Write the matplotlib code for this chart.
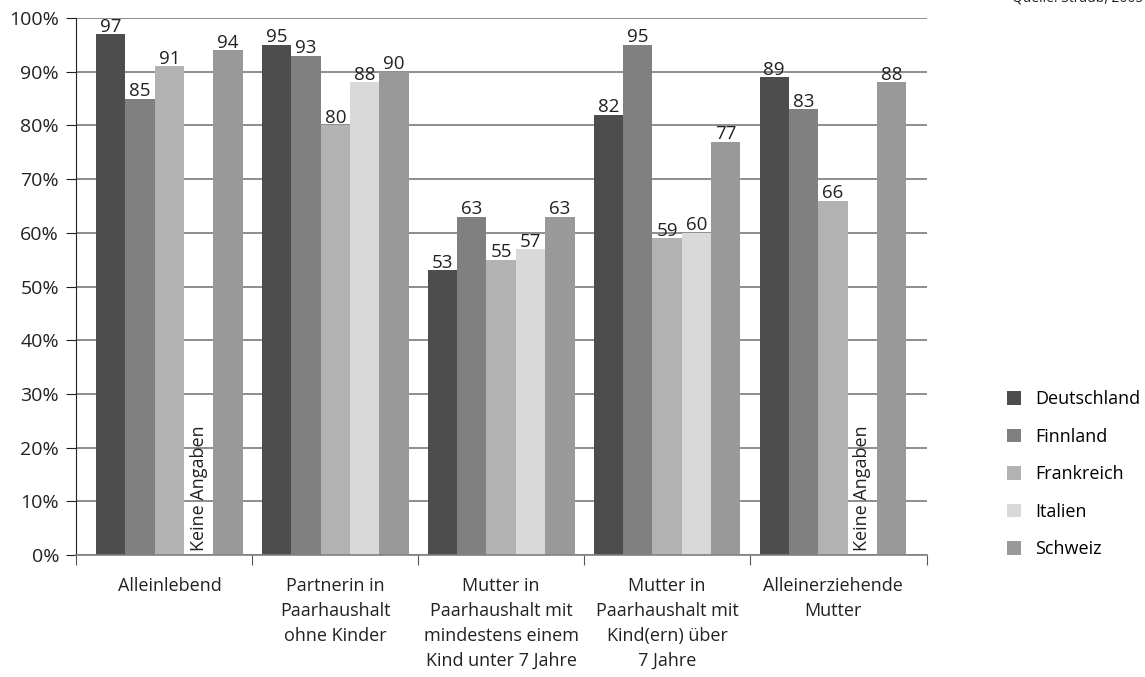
import numpy as np
import matplotlib
matplotlib.use("Agg")
import matplotlib.pyplot as plt
from matplotlib.patches import Patch

plt.rcParams['font.family'] = ['Open Sans', 'DejaVu Sans']

categories = ['Alleinlebend',
              'Partnerin in\nPaarhaushalt\nohne Kinder',
              'Mutter in\nPaarhaushalt mit\nmindestens einem\nKind unter 7 Jahre',
              'Mutter in\nPaarhaushalt mit\nKind(ern) über\n7 Jahre',
              'Alleinerziehende\nMutter']
countries = ['Deutschland', 'Finnland', 'Frankreich', 'Italien', 'Schweiz']
deutschland = [97, 95, 53, 82, 89]
finnland = [85, 93, 63, 95, 83]
frankreich = [91, 80, 55, 59, 66]
italien = [None, 88, 57, 60, None]   # None = keine Angaben
schweiz = [94, 90, 63, 77, 88]
colors = ['#4d4d4d', '#808080', '#b2b2b2', '#d9d9d9', '#999999']

series = [deutschland, finnland, frankreich, italien, schweiz]

fig = plt.figure(figsize=(11.45, 6.77), dpi=100)
ax = fig.add_axes([0.0661, 0.1802, 0.7432, 0.7932])

x = np.arange(len(categories))
width = 0.177
for i, (vals, col) in enumerate(zip(series, colors)):
    xs = x - 2 * width + i * width
    for xi, v in zip(xs, vals):
        if v is None:
            ax.text(xi, 0.8, 'Keine Angaben', rotation=90, ha='center', va='bottom',
                    fontsize=13, color='#222222')
            continue
        ax.bar(xi, v, width, color=col, zorder=2)
        ax.text(xi, v - 0.3, str(v), ha='center', va='bottom', fontsize=13.5,
                color='#222222')

xmin, xmax = -0.565, len(categories) - 0.435
ax.set_xlim(xmin, xmax)
ax.set_ylim(0, 100)
ax.set_yticks(np.arange(0, 101, 10))
ax.set_yticklabels([f'{t}%' for t in range(0, 101, 10)], fontsize=14, color='#222222')
ax.yaxis.grid(True, color='#7a7a7a', linewidth=1.2, zorder=0)
ax.set_axisbelow(True)

ax.set_xticks([xmin] + list(np.arange(0.5, len(categories) - 1, 1.0)) + [xmax])
ax.set_xticklabels([])
ax.set_xticks(x, minor=True)
ax.set_xticklabels(categories, minor=True, fontsize=13, color='#222222', linespacing=1.5)
ax.tick_params(axis='x', which='minor', length=0, pad=16)
ax.tick_params(axis='x', which='major', length=7, color='#555555', direction='out')
ax.tick_params(axis='y', length=7, direction='out', color='#222222', pad=5)

for s in ['top', 'right']:
    ax.spines[s].set_visible(False)
ax.spines['left'].set_color('#222222')
ax.spines['bottom'].set_color('#808080')
ax.spines['bottom'].set_linewidth(1.2)

handles = [Patch(facecolor=c, edgecolor='none') for c in colors]
fig.legend(handles, countries, loc='center left', bbox_to_anchor=(0.8795, 0.2995),
           frameon=False, fontsize=13, handlelength=0.78, handleheight=0.78,
           labelspacing=1.08, handletextpad=0.78, borderpad=0, borderaxespad=0)

fig.text(0.884, 0.9985, 'Quelle: Straub, 2005', fontsize=10, color='#222222',
         ha='left', va='baseline')

fig.savefig('out.png', dpi=100)
